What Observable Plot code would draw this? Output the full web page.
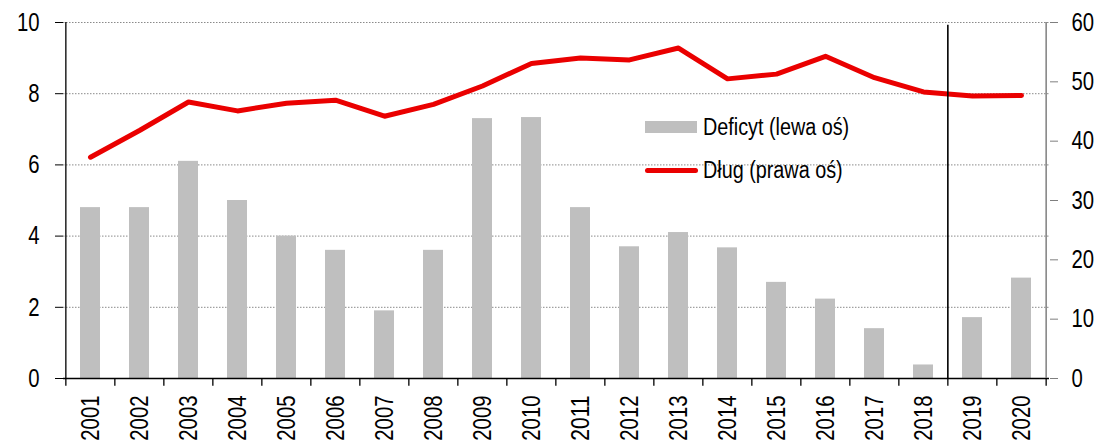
<!DOCTYPE html>
<html>
<head>
<meta charset="utf-8">
<script src="https://cdn.jsdelivr.net/npm/d3@7"></script>
<script src="https://cdn.jsdelivr.net/npm/@observablehq/plot@0.6"></script>
<style>
  html, body { margin: 0; padding: 0; background: #fff; }
  #wrap { position: relative; width: 1101px; height: 443px; overflow: hidden;
          font-family: 'Liberation Sans', Arial, sans-serif; }
  .leg { position: absolute; font-size: 23px; color: #000; line-height: 1; white-space: nowrap;
         transform: scaleX(0.86); transform-origin: 0 50%; }
  .sw-bar { position: absolute; width: 52px; height: 12px; background: #bfbfbf; }
  .sw-line { position: absolute; width: 53px; height: 5px; background: #ea0000; border-radius: 3px; }
</style>
</head>
<body>
<div id="wrap"></div>
<script>
const years = ["2001","2002","2003","2004","2005","2006","2007","2008","2009","2010",
               "2011","2012","2013","2014","2015","2016","2017","2018","2019","2020"];
const deficit = [4.8, 4.8, 6.1, 5.0, 4.0, 3.6, 1.9, 3.6, 7.3, 7.33,
                 4.8, 3.7, 4.1, 3.67, 2.7, 2.23, 1.4, 0.38, 1.71, 2.82];
const debt = [37.3, 41.8, 46.6, 45.1, 46.4, 46.9, 44.2, 46.2, 49.3, 53.1,
              54.0, 53.7, 55.7, 50.5, 51.3, 54.3, 50.7, 48.3, 47.6, 47.7];
const leftTicks = [0, 2, 4, 6, 8, 10];
const rightTicks = [0, 10, 20, 30, 40, 50, 60];
const forecastStart = "2019";
const legendLabels = ["Deficyt (lewa oś)", "Dług (prawa oś)"];

const W = 1101, H = 443, mL = 63, mR = 52, mT = 22, mB = 65;
const step = (W - mL - mR) / years.length;
const ratio = 60 / 10; // right axis max / left axis max
const rows = years.map((y, i) => ({year: y, deficit: deficit[i], debt: debt[i]}));

const chart = Plot.plot({
  width: W, height: H,
  marginLeft: mL, marginRight: mR, marginTop: mT, marginBottom: mB,
  style: {fontFamily: "'Liberation Sans', Arial, sans-serif", fontSize: "26px", color: "#000", background: "#fff"},
  x: {type: "band", domain: years, paddingInner: 0.59, paddingOuter: 0.295},
  y: {domain: [0, 10]},
  marks: [
    Plot.gridY(leftTicks.filter(t => t > 0), {stroke: "#8a8a8a", strokeOpacity: 1, strokeDasharray: "1.5,1.5"}),
    Plot.barY(rows, {x: "year", y: "deficit", fill: "#bfbfbf"}),
    Plot.lineY(rows, {x: "year", y: d => d.debt / ratio, stroke: "#ea0000", strokeWidth: 5, strokeLinecap: "round", strokeLinejoin: "round"}),
    // bottom axis line and boundary ticks
    Plot.ruleY([0], {stroke: "#000", strokeWidth: 1.3}),
    Plot.ruleX(years, {x: d => d, dx: -step / 2, y1: 0, y2: -0.22, stroke: "#000", strokeWidth: 1.3}),
    Plot.ruleX([years[years.length - 1]], {x: d => d, dx: step / 2, y1: 0, y2: -0.22, stroke: "#000", strokeWidth: 1.3}),
    // left axis line
    Plot.ruleX([years[0]], {x: d => d, dx: -step / 2, y1: 0, y2: 10, stroke: "#000", strokeWidth: 1.3}),
    // right axis line
    Plot.ruleX([years[years.length - 1]], {x: d => d, dx: step / 2, y1: 0, y2: 10, stroke: "#7f7f7f", strokeWidth: 1.5}),
    // forecast separator
    Plot.ruleX([forecastStart], {x: d => d, dx: -step / 2, y1: 0, y2: 9.92, stroke: "#000", strokeWidth: 1.6}),
    Plot.axisY({anchor: "left", ticks: leftTicks, tickSize: 8, tickPadding: 16, fontSize: 26, stroke: "#000", label: null}),
    Plot.axisY({anchor: "right", ticks: rightTicks.map(v => v / ratio), tickFormat: v => String(Math.round(v * ratio)), tickSize: 8, tickPadding: 14, fontSize: 26, stroke: "#7f7f7f", label: null}),
    Plot.axisX({anchor: "bottom", tickRotate: -90, tickSize: 0, tickPadding: 17, fontSize: 26, label: null})
  ]
});

// narrow the tick labels (the reference uses a condensed face)
chart.querySelectorAll("text").forEach(t => {
  const s = t.textContent;
  if (s && s.length) {
    t.setAttribute("textLength", (s.length * 11.3).toFixed(1));
    t.setAttribute("lengthAdjust", "spacingAndGlyphs");
  }
});

const wrap = document.getElementById("wrap");
wrap.appendChild(chart);

// legend placed inside the plot area
const sw1 = document.createElement("div"); sw1.className = "sw-bar";
sw1.style.left = "645px"; sw1.style.top = "121px"; wrap.appendChild(sw1);
const t1 = document.createElement("div"); t1.className = "leg"; t1.textContent = legendLabels[0];
t1.style.left = "703px"; t1.style.top = "116px"; wrap.appendChild(t1);
const sw2 = document.createElement("div"); sw2.className = "sw-line";
sw2.style.left = "645px"; sw2.style.top = "168px"; wrap.appendChild(sw2);
const t2 = document.createElement("div"); t2.className = "leg"; t2.textContent = legendLabels[1];
t2.style.left = "703px"; t2.style.top = "159px"; wrap.appendChild(t2);
</script>
</body>
</html>
